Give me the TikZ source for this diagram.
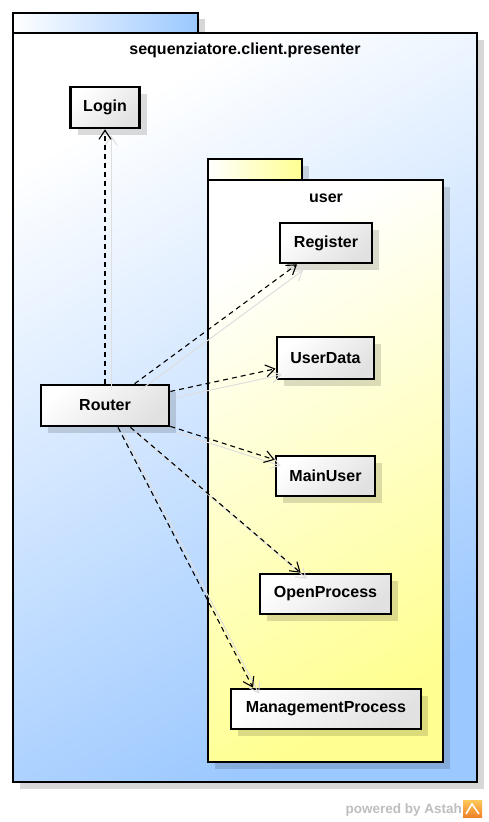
\documentclass[tikz,border=0pt]{standalone}
\usepackage{fontspec}
\setmainfont{Liberation Sans}
\usetikzlibrary{arrows.meta,shadows}
\definecolor{pkgblue}{RGB}{155,200,255}
\definecolor{pkgyellow}{RGB}{255,255,145}
\definecolor{boxgray}{RGB}{225,225,225}
\definecolor{shadowgray}{RGB}{215,215,215}
\definecolor{astahgray}{RGB}{190,190,190}
\begin{document}
\begin{tikzpicture}[x=1pt,y=-1pt,
  lbl/.style={font=\bfseries\fontsize{16}{18}\selectfont, inner sep=0pt},
  box/.style={draw=black, line width=2.6pt, top color=white, bottom color=boxgray, shading angle=40,
    minimum height=40pt, inner sep=0pt, font=\bfseries\fontsize{16}{18}\selectfont,
    general shadow={fill=black, opacity=0.14, shadow xshift=7pt, shadow yshift=-7pt}},
  dep/.style={dash pattern=on 5pt off 4pt, line width=1.1pt,
    -{Straight Barb[length=9pt,width=12pt,line width=1.1pt]}},
  depsh/.style={line width=1pt, draw=black!13,
    -{Straight Barb[length=9pt,width=12pt,line width=1pt]}},
  pkgline/.style={draw=black, line width=2.6pt},
]
\fill[white] (0,0) rectangle (489,822);
\useasboundingbox (0,0) rectangle (489,822);

% outer package
\fill[shadowgray] (20,19) rectangle (205,40);
\fill[shadowgray] (20,40) rectangle (484,789);
\shade[pkgline, left color=white, right color=pkgblue] (13,13) rectangle (198,33);
\shade[pkgline, top color=white, bottom color=pkgblue, shading angle=30] (13,33) rectangle (477,782);
\node[lbl] (outertitle) at (245,50) {sequenziatore.client.presenter};

% inner package
\fill[black, opacity=0.14] (215,166) rectangle (309,187);
\fill[black, opacity=0.14] (215,187) rectangle (450,769);
\shade[pkgline, left color=white, right color=pkgyellow] (208,159) rectangle (302,180);
\shade[pkgline, top color=white, bottom color=pkgyellow, shading angle=30] (208,180) rectangle (443,762);
\node[lbl] (usertitle) at (326,198) {user};

% classes
\node[box, minimum width=69pt, minimum height=41pt] (login) at (105,107.5) {Login};
\node[box, minimum width=92pt] (register) at (326,243) {Register};
\node[box, minimum width=97pt, minimum height=42pt] (userdata) at (325.5,358) {UserData};
\node[box, minimum width=99pt] (mainuser) at (325.5,476) {MainUser};
\node[box, minimum width=131pt] (openprocess) at (325.5,594) {OpenProcess};
\node[box, minimum width=190pt] (mp) at (326,709) {ManagementProcess};
\node[box, minimum width=128pt, minimum height=41pt] (router) at (105,405.5) {Router};

% connector shadows
\begin{scope}[transform canvas={shift={(6pt,-6pt)}}]
\draw[depsh] (router) -- (login);
\draw[depsh] (router) -- (register);
\draw[depsh] (router) -- (userdata);
\draw[depsh] (router) -- (mainuser);
\draw[depsh] (router) -- (openprocess);
\draw[depsh] ([xshift=13pt]router.south) -- ([xshift=-73pt]mp.north);
\end{scope}

% connectors
\draw[dep] (router) -- (login);
\draw[dep] (router) -- (register);
\draw[dep] (router) -- (userdata);
\draw[dep] (router) -- (mainuser);
\draw[dep] (router) -- (openprocess);
\draw[dep] ([xshift=13pt]router.south) -- ([xshift=-73pt]mp.north);

% footer
\node[font=\bfseries\fontsize{13.5}{16}\selectfont, text=astahgray, anchor=base east, inner sep=0pt]
  (powered) at (462,813) {powered by Astah};
\shade[top color={rgb,255:red,255;green,200;blue,90}, bottom color={rgb,255:red,240;green,130;blue,40}]
  (463,800) rectangle (482,817);
\draw[white, line width=1.5pt] (466,814) -- (472,804) -- (479,814);
\end{tikzpicture}
\end{document}
